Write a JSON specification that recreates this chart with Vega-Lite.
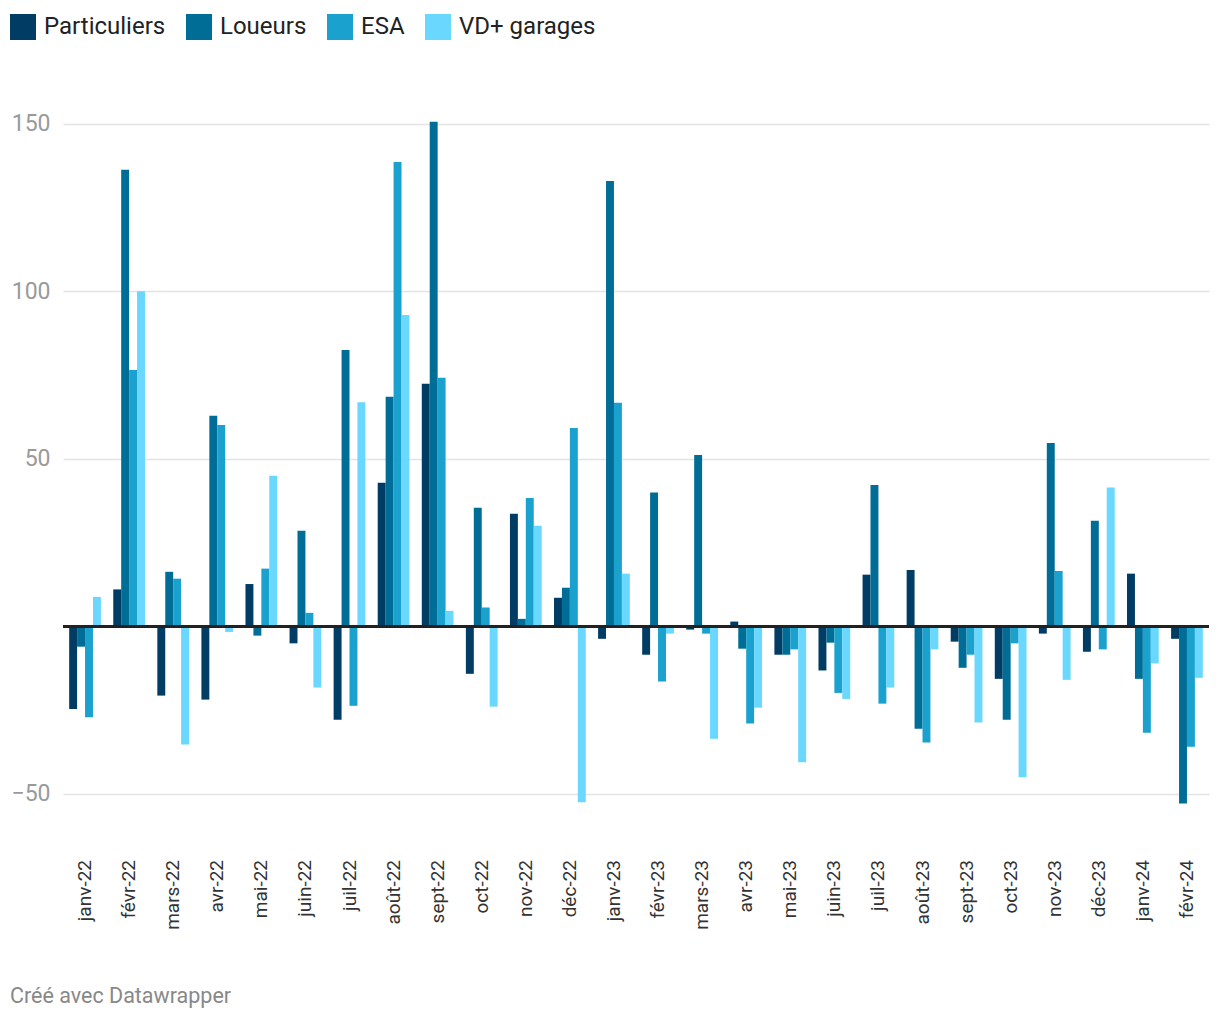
{
  "$schema": "https://vega.github.io/schema/vega-lite/v6.json",
  "width": 1146,
  "height": 703.5,
  "autosize": {"type": "none"},
  "padding": {"left": 63, "top": 107, "right": 11, "bottom": 209.5},
  "config": {
    "font": "Roboto",
    "view": {"stroke": null},
    "axis": {"labelFont": "Roboto"},
    "legend": {"labelFont": "Roboto"}
  },
  "title": {
    "text": "Créé avec Datawrapper",
    "orient": "bottom",
    "anchor": "start",
    "frame": "group",
    "dx": -53,
    "offset": 57,
    "fontSize": 21.5,
    "fontWeight": "normal",
    "color": "#888888",
    "font": "Roboto"
  },
  "data": {
    "values": [
      {"m": "janv-22", "s": "Particuliers", "v": -24.7},
      {"m": "janv-22", "s": "Loueurs", "v": -6.1},
      {"m": "janv-22", "s": "ESA", "v": -27.2},
      {"m": "janv-22", "s": "VD+ garages", "v": 8.75},
      {"m": "févr-22", "s": "Particuliers", "v": 11.0},
      {"m": "févr-22", "s": "Loueurs", "v": 136.3},
      {"m": "févr-22", "s": "ESA", "v": 76.5},
      {"m": "févr-22", "s": "VD+ garages", "v": 100},
      {"m": "mars-22", "s": "Particuliers", "v": -20.7},
      {"m": "mars-22", "s": "Loueurs", "v": 16.25},
      {"m": "mars-22", "s": "ESA", "v": 14.2},
      {"m": "mars-22", "s": "VD+ garages", "v": -35.3},
      {"m": "avr-22", "s": "Particuliers", "v": -21.9},
      {"m": "avr-22", "s": "Loueurs", "v": 62.8},
      {"m": "avr-22", "s": "ESA", "v": 60.1},
      {"m": "avr-22", "s": "VD+ garages", "v": -1.7},
      {"m": "mai-22", "s": "Particuliers", "v": 12.6},
      {"m": "mai-22", "s": "Loueurs", "v": -2.8},
      {"m": "mai-22", "s": "ESA", "v": 17.2},
      {"m": "mai-22", "s": "VD+ garages", "v": 44.9},
      {"m": "juin-22", "s": "Particuliers", "v": -5.1},
      {"m": "juin-22", "s": "Loueurs", "v": 28.5},
      {"m": "juin-22", "s": "ESA", "v": 4.0},
      {"m": "juin-22", "s": "VD+ garages", "v": -18.3},
      {"m": "juil-22", "s": "Particuliers", "v": -27.9},
      {"m": "juil-22", "s": "Loueurs", "v": 82.5},
      {"m": "juil-22", "s": "ESA", "v": -23.75},
      {"m": "juil-22", "s": "VD+ garages", "v": 66.9},
      {"m": "août-22", "s": "Particuliers", "v": 42.8},
      {"m": "août-22", "s": "Loueurs", "v": 68.5},
      {"m": "août-22", "s": "ESA", "v": 138.6},
      {"m": "août-22", "s": "VD+ garages", "v": 92.9},
      {"m": "sept-22", "s": "Particuliers", "v": 72.4},
      {"m": "sept-22", "s": "Loueurs", "v": 150.6},
      {"m": "sept-22", "s": "ESA", "v": 74.2},
      {"m": "sept-22", "s": "VD+ garages", "v": 4.6},
      {"m": "oct-22", "s": "Particuliers", "v": -14.2},
      {"m": "oct-22", "s": "Loueurs", "v": 35.4},
      {"m": "oct-22", "s": "ESA", "v": 5.6},
      {"m": "oct-22", "s": "VD+ garages", "v": -24.0},
      {"m": "nov-22", "s": "Particuliers", "v": 33.6},
      {"m": "nov-22", "s": "Loueurs", "v": 2.2},
      {"m": "nov-22", "s": "ESA", "v": 38.3},
      {"m": "nov-22", "s": "VD+ garages", "v": 30.0},
      {"m": "déc-22", "s": "Particuliers", "v": 8.5},
      {"m": "déc-22", "s": "Loueurs", "v": 11.5},
      {"m": "déc-22", "s": "ESA", "v": 59.2},
      {"m": "déc-22", "s": "VD+ garages", "v": -52.5},
      {"m": "janv-23", "s": "Particuliers", "v": -3.75},
      {"m": "janv-23", "s": "Loueurs", "v": 132.9},
      {"m": "janv-23", "s": "ESA", "v": 66.7},
      {"m": "janv-23", "s": "VD+ garages", "v": 15.7},
      {"m": "févr-23", "s": "Particuliers", "v": -8.5},
      {"m": "févr-23", "s": "Loueurs", "v": 39.9},
      {"m": "févr-23", "s": "ESA", "v": -16.5},
      {"m": "févr-23", "s": "VD+ garages", "v": -2.2},
      {"m": "mars-23", "s": "Particuliers", "v": -1.0},
      {"m": "mars-23", "s": "Loueurs", "v": 51.1},
      {"m": "mars-23", "s": "ESA", "v": -2.2},
      {"m": "mars-23", "s": "VD+ garages", "v": -33.6},
      {"m": "avr-23", "s": "Particuliers", "v": 1.4},
      {"m": "avr-23", "s": "Loueurs", "v": -6.7},
      {"m": "avr-23", "s": "ESA", "v": -29.0},
      {"m": "avr-23", "s": "VD+ garages", "v": -24.3},
      {"m": "mai-23", "s": "Particuliers", "v": -8.5},
      {"m": "mai-23", "s": "Loueurs", "v": -8.5},
      {"m": "mai-23", "s": "ESA", "v": -6.9},
      {"m": "mai-23", "s": "VD+ garages", "v": -40.6},
      {"m": "juin-23", "s": "Particuliers", "v": -13.2},
      {"m": "juin-23", "s": "Loueurs", "v": -4.9},
      {"m": "juin-23", "s": "ESA", "v": -19.9},
      {"m": "juin-23", "s": "VD+ garages", "v": -21.7},
      {"m": "juil-23", "s": "Particuliers", "v": 15.4},
      {"m": "juil-23", "s": "Loueurs", "v": 42.2},
      {"m": "juil-23", "s": "ESA", "v": -23.1},
      {"m": "juil-23", "s": "VD+ garages", "v": -18.3},
      {"m": "août-23", "s": "Particuliers", "v": 16.8},
      {"m": "août-23", "s": "Loueurs", "v": -30.6},
      {"m": "août-23", "s": "ESA", "v": -34.7},
      {"m": "août-23", "s": "VD+ garages", "v": -6.9},
      {"m": "sept-23", "s": "Particuliers", "v": -4.6},
      {"m": "sept-23", "s": "Loueurs", "v": -12.4},
      {"m": "sept-23", "s": "ESA", "v": -8.5},
      {"m": "sept-23", "s": "VD+ garages", "v": -28.75},
      {"m": "oct-23", "s": "Particuliers", "v": -15.7},
      {"m": "oct-23", "s": "Loueurs", "v": -27.9},
      {"m": "oct-23", "s": "ESA", "v": -5.1},
      {"m": "oct-23", "s": "VD+ garages", "v": -45.1},
      {"m": "nov-23", "s": "Particuliers", "v": -2.2},
      {"m": "nov-23", "s": "Loueurs", "v": 54.7},
      {"m": "nov-23", "s": "ESA", "v": 16.5},
      {"m": "nov-23", "s": "VD+ garages", "v": -16.0},
      {"m": "déc-23", "s": "Particuliers", "v": -7.6},
      {"m": "déc-23", "s": "Loueurs", "v": 31.5},
      {"m": "déc-23", "s": "ESA", "v": -6.9},
      {"m": "déc-23", "s": "VD+ garages", "v": 41.4},
      {"m": "janv-24", "s": "Particuliers", "v": 15.7},
      {"m": "janv-24", "s": "Loueurs", "v": -15.7},
      {"m": "janv-24", "s": "ESA", "v": -31.8},
      {"m": "janv-24", "s": "VD+ garages", "v": -11.1},
      {"m": "févr-24", "s": "Particuliers", "v": -3.75},
      {"m": "févr-24", "s": "Loueurs", "v": -52.9},
      {"m": "févr-24", "s": "ESA", "v": -36.0},
      {"m": "févr-24", "s": "VD+ garages", "v": -15.4}
    ]
  },
  "layer": [
    {
      "mark": {"type": "bar"},
      "encoding": {
        "x": {
          "field": "m",
          "type": "nominal",
          "sort": null,
          "scale": {"paddingInner": 0.28, "paddingOuter": 0.14},
          "axis": {
            "title": null,
            "labelAngle": -90,
            "labelFontSize": 19,
            "labelColor": "#333333",
            "ticks": false,
            "domain": false,
            "grid": false,
            "labelPadding": 49
          }
        },
        "xOffset": {
          "field": "s",
          "type": "nominal",
          "sort": ["Particuliers", "Loueurs", "ESA", "VD+ garages"]
        },
        "y": {
          "field": "v",
          "type": "quantitative",
          "scale": {"domain": [-55, 155], "nice": false, "zero": false},
          "axis": {
            "title": null,
            "values": [-50, 50, 100, 150],
            "labelFontSize": 23,
            "labelColor": "#9a9a9a",
            "ticks": false,
            "domain": false,
            "grid": true,
            "gridColor": "#e3e3e3",
            "gridWidth": 1.5,
            "labelPadding": 13
          }
        },
        "color": {
          "field": "s",
          "type": "nominal",
          "sort": ["Particuliers", "Loueurs", "ESA", "VD+ garages"],
          "scale": {
            "domain": ["Particuliers", "Loueurs", "ESA", "VD+ garages"],
            "range": ["#003c63", "#006d97", "#1aa1cd", "#6ad7ff"]
          },
          "legend": {
            "title": null,
            "orient": "none",
            "legendX": -53,
            "legendY": -93,
            "direction": "horizontal",
            "symbolType": "square",
            "symbolSize": 676,
            "symbolStrokeWidth": 0,
            "symbolOpacity": 1,
            "labelFontSize": 24,
            "labelColor": "#222222",
            "labelOffset": 8,
            "columnPadding": 20
          }
        }
      }
    },
    {
      "mark": {"type": "rule", "color": "#222222", "strokeWidth": 2},
      "encoding": {"y": {"datum": 0}}
    }
  ]
}
